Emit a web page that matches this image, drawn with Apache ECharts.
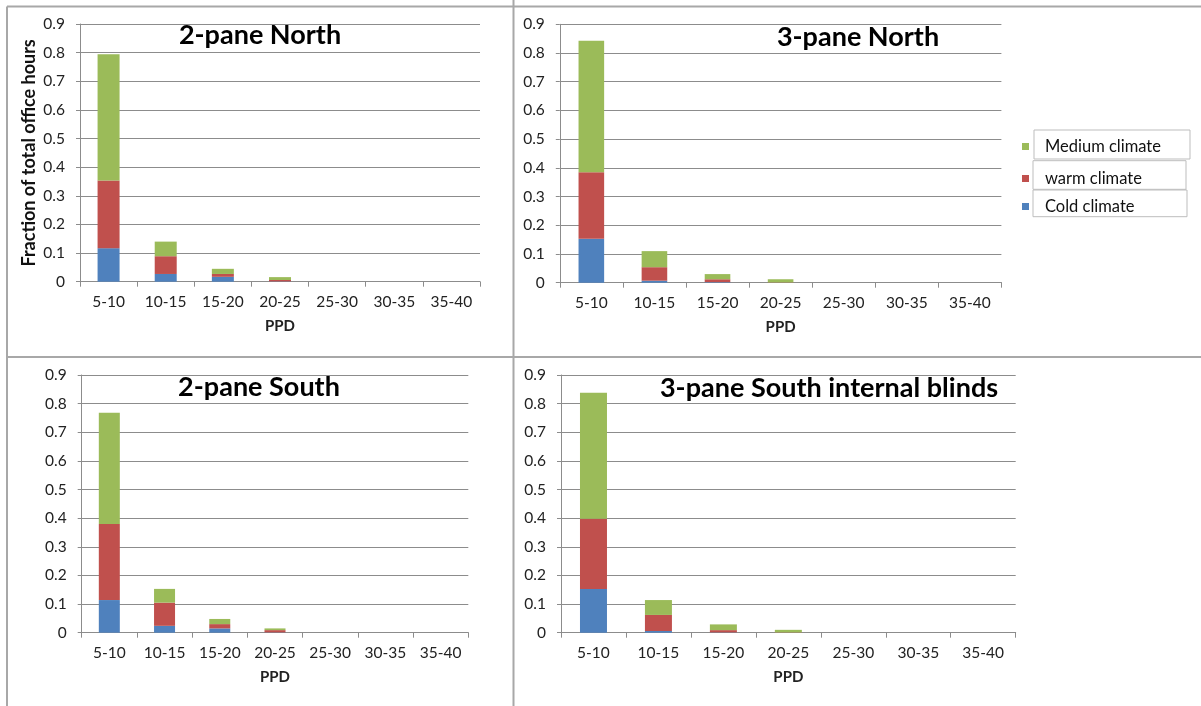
<!DOCTYPE html>
<html>
<head>
<meta charset="utf-8">
<script src="https://cdn.jsdelivr.net/npm/echarts@6/dist/echarts.min.js"></script>
<style>
html,body{margin:0;padding:0;background:#fff;}
#main{width:1201px;height:706px;}
</style>
</head>
<body>
<div id="main"></div>
<script>
// ---- data ----
var categories = ['5-10', '10-15', '15-20', '20-25', '25-30', '30-35', '35-40'];
var seriesNames = ['Cold climate', 'warm climate', 'Medium climate'];
var panelTitles = ['2-pane North', '3-pane North', '2-pane South', '3-pane South internal blinds'];
var yAxisTitle = 'Fraction of total office hours';
var xAxisTitle = 'PPD';

var p1Cold   = [0.117, 0.027, 0.017, 0.001, 0, 0, 0];
var p1Warm   = [0.236, 0.062, 0.010, 0.005, 0, 0, 0];
var p1Medium = [0.441, 0.051, 0.018, 0.010, 0, 0, 0];

var p2Cold   = [0.153, 0.007, 0.002, 0.000, 0, 0, 0];
var p2Warm   = [0.232, 0.047, 0.010, 0.001, 0, 0, 0];
var p2Medium = [0.458, 0.056, 0.018, 0.011, 0, 0, 0];

var p3Cold   = [0.114, 0.024, 0.015, 0.001, 0, 0, 0];
var p3Warm   = [0.266, 0.081, 0.015, 0.008, 0, 0, 0];
var p3Medium = [0.388, 0.048, 0.018, 0.006, 0, 0, 0];

var p4Cold   = [0.153, 0.006, 0.001, 0.000, 0, 0, 0];
var p4Warm   = [0.245, 0.056, 0.008, 0.001, 0, 0, 0];
var p4Medium = [0.440, 0.052, 0.020, 0.009, 0, 0, 0];

var panels = [
  [p1Cold, p1Warm, p1Medium],
  [p2Cold, p2Warm, p2Medium],
  [p3Cold, p3Warm, p3Medium],
  [p4Cold, p4Warm, p4Medium]
];

// ---- layout / style ----
var FONT = 'Lato, "Open Sans", sans-serif';
var colors = ['#4F81BD', '#C0504D', '#9BBB59'];
var grids = [
  {left: 80,    top: 24,  width: 400,   height: 257.7},
  {left: 559.8, top: 24.3, width: 441.6, height: 258.4},
  {left: 81.7,  top: 375, width: 386.6, height: 257.7},
  {left: 561,   top: 375, width: 454.7, height: 257.7}
];
var barWidths = [22, 25.6, 21, 27];
var titlePos = [[260, 35], [858, 37], [259, 387], [829, 388]];

var gridColor = '#8c8c8c';
var xAxes = [], yAxes = [], series = [], graphics = [];

for (var i = 0; i < 4; i++) {
  xAxes.push({
    type: 'category', gridIndex: i, data: categories, boundaryGap: true,
    axisLine: {show: true, lineStyle: {color: gridColor, width: 1}},
    axisTick: {show: true, length: 5, lineStyle: {color: gridColor}},
    axisLabel: {color: '#222', fontFamily: FONT, fontSize: 15.5, margin: 12, interval: 0},
    name: xAxisTitle, nameLocation: 'middle', nameGap: 37,
    nameTextStyle: {color: '#222', fontFamily: FONT, fontSize: 15, fontWeight: 'bold'}
  });
  var ya = {
    type: 'value', gridIndex: i, min: 0, max: 0.9, interval: 0.1,
    axisLine: {show: true, lineStyle: {color: gridColor, width: 1}},
    axisTick: {show: true, length: 4, lineStyle: {color: gridColor}},
    splitLine: {show: true, lineStyle: {color: gridColor, width: 1}},
    axisLabel: {color: '#222', fontFamily: FONT, fontSize: 15.5, margin: 15,
      formatter: function (v) { return (Math.round(v * 10) / 10).toString(); }}
  };
  if (i === 0) {
    ya.name = yAxisTitle;
    ya.nameLocation = 'middle';
    ya.nameRotate = 90;
    ya.nameGap = 42;
    ya.nameTextStyle = {color: '#111', fontFamily: FONT, fontSize: 18, fontWeight: 'bold'};
  }
  yAxes.push(ya);
  for (var s = 0; s < 3; s++) {
    series.push({
      type: 'bar', name: seriesNames[s], xAxisIndex: i, yAxisIndex: i,
      stack: 'panel' + i, data: panels[i][s], barWidth: barWidths[i],
      itemStyle: {color: colors[s]}, emphasis: {disabled: true}, animation: false
    });
  }
  graphics.push({
    type: 'text', x: titlePos[i][0], y: titlePos[i][1], z: 10,
    style: {text: panelTitles[i], fill: '#000', font: 'bold 27px ' + FONT,
      textAlign: 'center', textVerticalAlign: 'middle'}
  });
}

// panel frames
var frameColor = '#a8a8a8';
function line(x1, y1, x2, y2) {
  return {type: 'line', z: 1, shape: {x1: x1, y1: y1, x2: x2, y2: y2},
    style: {stroke: frameColor, lineWidth: 2}};
}
graphics.push(line(7, 6.5, 1201, 6.5));
graphics.push(line(7, 357, 1201, 357));
graphics.push(line(7, 6.5, 7, 706));
graphics.push(line(513.5, 0, 513.5, 706));

// legend boxes
var legendBoxes = [[1034, 130, 156, 29], [1033, 160.7, 153, 28.6], [1033, 190, 154, 26.7]];
legendBoxes.forEach(function (b) {
  graphics.push({type: 'rect', z: 1, shape: {x: b[0], y: b[1], width: b[2], height: b[3]},
    style: {fill: '#fff', stroke: '#bdbdbd', lineWidth: 1}});
});

var legendOrder = ['Medium climate', 'warm climate', 'Cold climate'];
var legendTops = [138, 170, 198];
var legends = legendOrder.map(function (n, k) {
  return {
    data: [n], left: 1022, top: legendTops[k], padding: 0, itemWidth: 7, itemHeight: 7,
    icon: 'rect', selectedMode: false,
    textStyle: {color: '#111', fontFamily: FONT, fontSize: 16.5, lineHeight: 16, padding: [0, 0, 0, 11]}
  };
});

var chart = echarts.init(document.getElementById('main'), null, {renderer: 'canvas'});
chart.setOption({
  backgroundColor: '#fff',
  animation: false,
  grid: grids,
  xAxis: xAxes,
  yAxis: yAxes,
  legend: legends,
  graphic: graphics,
  series: series
});
</script>
</body>
</html>
